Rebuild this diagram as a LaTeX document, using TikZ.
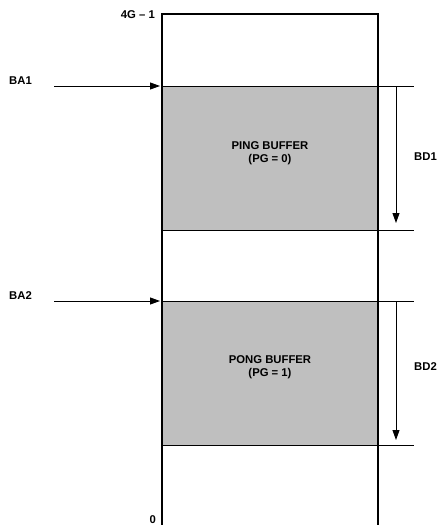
\documentclass[tikz,border=0pt]{standalone}
\usepackage{fontspec}
\setmainfont{Liberation Sans}
\usetikzlibrary{arrows.meta}
\begin{document}
\begin{tikzpicture}[x=1pt,y=-1pt,
  lbl/.style={font=\bfseries\fontsize{11.3}{13.5}\selectfont, inner sep=0pt},
  buf/.style={fill=black!25, draw=none},
  wall/.style={line width=1.3pt},
  hline/.style={line width=1pt},
  arr/.style={line width=0.9pt, -{Triangle[length=10pt,width=7pt]}}]
\useasboundingbox (0,0) rectangle (447,525);
% buffers
\fill[black!25] (162,86) rectangle (378,230);
\fill[black!25] (162,301) rectangle (378,445);
% horizontal lines
\draw[hline] (162,86) -- (414,86);
\draw[hline] (162,230) -- (414,230);
\draw[hline] (162,301) -- (414,301);
\draw[hline] (162,445) -- (414,445);
% outer walls
\draw[wall] (162,530) -- (162,14) -- (378,14) -- (378,530);
% coordinates
\coordinate (ba1s) at (54,86);
\coordinate (ba1e) at (160,86);
\coordinate (ba2s) at (54,301);
\coordinate (ba2e) at (160,301);
\coordinate (bd1s) at (396,86);
\coordinate (bd1e) at (396,223);
\coordinate (bd2s) at (396,301);
\coordinate (bd2e) at (396,440);
\draw[arr] (ba1s) -- (ba1e);
\draw[arr] (ba2s) -- (ba2e);
\draw[arr] (bd1s) -- (bd1e);
\draw[arr] (bd2s) -- (bd2e);
% labels
\node[lbl, anchor=east] (top) at (155,15) {4G -- 1};
\node[lbl, anchor=east] (zero) at (156,520) {0};
\node[lbl, anchor=west] (ba1) at (9,81) {BA1};
\node[lbl, anchor=west] (ba2) at (9,296) {BA2};
\node[lbl, anchor=west] (bd1) at (414,157) {BD1};
\node[lbl, anchor=west] (bd2) at (414,367) {BD2};
\node[lbl, align=center] (ping) at (270,153) {PING BUFFER\\(PG = 0)};
\node[lbl, align=center] (pong) at (270,367) {PONG BUFFER\\(PG = 1)};
\end{tikzpicture}
\end{document}
